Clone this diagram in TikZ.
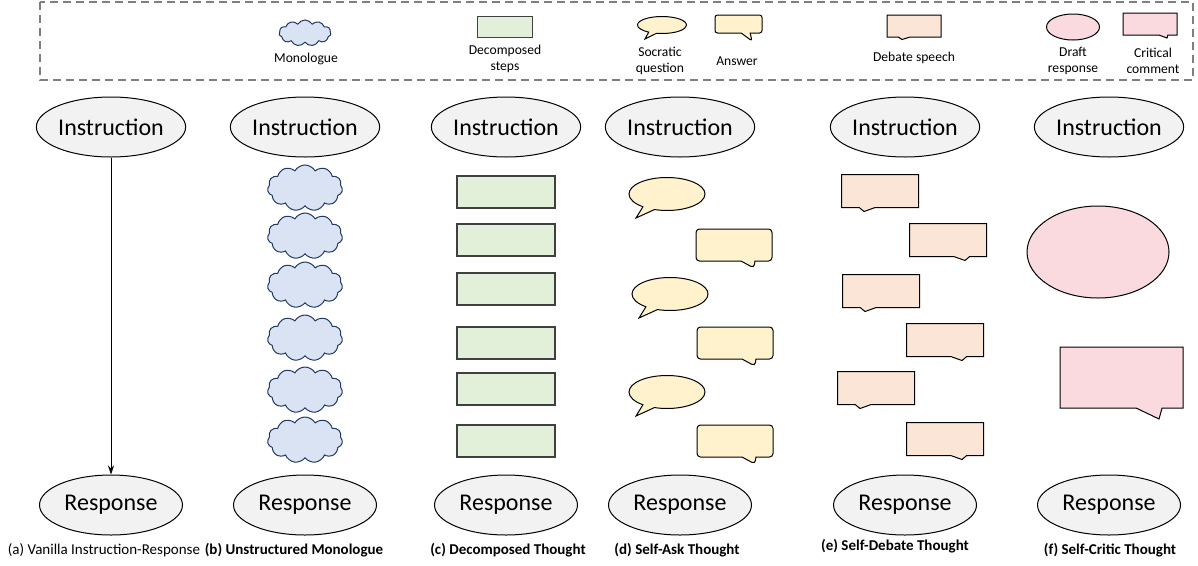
\documentclass[tikz,border=0pt]{standalone}
\usepackage{fontspec}
\setmainfont{Carlito}
\usetikzlibrary{shapes.geometric,shapes.symbols,shapes.callouts,arrows.meta}

\definecolor{cloudfill}{HTML}{DAE3F3}
\definecolor{clouddraw}{HTML}{1F3864}
\definecolor{stepfill}{HTML}{E2F0D9}
\definecolor{stepdraw}{HTML}{404040}
\definecolor{askfill}{HTML}{FFF2CC}
\definecolor{debatefill}{HTML}{FBE5D6}
\definecolor{criticfill}{HTML}{FADADF}
\definecolor{iofill}{HTML}{F2F2F2}
\definecolor{legendline}{HTML}{7F7F7F}

\tikzset{
 io/.style={ellipse, draw, fill=iofill, line width=1pt, minimum width=143pt, minimum height=60pt, inner sep=0pt, font=\fontsize{24}{28}\selectfont},
 monologue/.style={cloud, cloud puffs=11, cloud puff arc=120, cloud ignores aspect, draw=clouddraw, fill=cloudfill, line width=1pt, inner sep=0pt, minimum width=75pt, minimum height=46pt},
 stepbox/.style={rectangle, draw=stepdraw, fill=stepfill, line width=1.3pt, inner sep=0pt, minimum width=98pt, minimum height=32pt},
 question/.style={ellipse callout, draw, fill=askfill, line width=1pt, inner sep=0pt, callout pointer arc=20, minimum width=76pt, minimum height=33pt},
 answer/.style={rectangle callout, draw, fill=askfill, line width=1pt, inner sep=0pt, rounded corners=3.5pt, callout pointer width=14pt, minimum width=76pt, minimum height=32pt},
 debate/.style={rectangle callout, draw, fill=debatefill, line width=1pt, inner sep=0pt, callout pointer width=16pt, minimum width=77pt, minimum height=33pt},
 draft/.style={ellipse, draw, fill=criticfill, line width=1pt, inner sep=0pt},
 comment/.style={rectangle callout, draw, fill=criticfill, line width=1pt, inner sep=0pt, callout pointer width=26pt},
 legendtext/.style={align=center, inner sep=0pt, font=\fontsize{13.6}{16.5}\selectfont},
 caption/.style={inner sep=0pt, font=\fontsize{15}{18}\selectfont},
 boldcaption/.style={inner sep=0pt, font=\fontsize{15}{18}\selectfont\bfseries},
}

\begin{document}
\begin{tikzpicture}[x=1pt,y=-1pt]
 \useasboundingbox (0,0) rectangle (1198,565);

 %legend
 \draw [legendline, line width=1.5pt, dash pattern=on 8pt off 5pt] (40,2) rectangle (1193,80);
 \node [monologue, minimum width=52pt, minimum height=26pt] (legcloud) at (305,33) {};
 \node [legendtext] (legcloudtext) at (306,59) {Monologue};
 \node [stepbox, minimum width=55pt, minimum height=21pt] (legstep) at (505,27) {};
 \node [legendtext] (legsteptext) at (505,59) {Decomposed\\steps};
 \node [question, minimum width=49pt, minimum height=17pt, callout absolute pointer={(645,39)}] (legask) at (662,25) {};
 \node [legendtext] (legasktext) at (660,61) {Socratic\\question};
 \node [answer, minimum width=47pt, minimum height=18pt, rounded corners=2.5pt, callout pointer width=9pt, callout absolute pointer={(752,41)}] (legans) at (738.5,24) {};
 \node [legendtext] (leganstext) at (737,61) {Answer};
 \node [debate, minimum width=54pt, minimum height=22pt, callout pointer width=12pt, callout absolute pointer={(902,39.5)}] (legdebate) at (914,26) {};
 \node [legendtext] (legdebatetext) at (914,58) {Debate speech};
 \node [draft, minimum width=53pt, minimum height=26pt] (legdraft) at (1073,27) {};
 \node [legendtext] (legdrafttext) at (1073,61) {Draft\\response};
 \node [comment, minimum width=54pt, minimum height=22pt, callout pointer width=9pt, callout absolute pointer={(1167,38)}] (legcomment) at (1150,24) {};
 \node [legendtext] (legcommenttext) at (1153,61) {Critical\\comment};

 %instructions and responses
 \node [io] (instrA) at (111,127) {Instruction};
 \node [io] (instrB) at (305,127) {Instruction};
 \node [io] (instrC) at (506,127) {Instruction};
 \node [io] (instrD) at (680,127) {Instruction};
 \node [io] (instrE) at (905,127) {Instruction};
 \node [io] (instrF) at (1109,127) {Instruction};
 \node [io] (respA) at (111,505) {Response};
 \node [io] (respB) at (305,505) {Response};
 \node [io] (respC) at (506,505) {Response};
 \node [io] (respD) at (680,505) {Response};
 \node [io] (respE) at (905,505) {Response};
 \node [io] (respF) at (1109,505) {Response};

 %(a) direct arrow
 \draw [line width=1pt, -{Stealth[length=9pt,width=6pt]}] (instrA) -- (respA);

 %(b) monologue clouds
 \node [monologue] (cloudA) at (305,188) {};
 \node [monologue] (cloudB) at (305,236) {};
 \node [monologue] (cloudC) at (305,285) {};
 \node [monologue] (cloudD) at (305,338) {};
 \node [monologue] (cloudE) at (305,390) {};
 \node [monologue] (cloudF) at (305,440) {};

 %(c) decomposed steps
 \node [stepbox] (stepA) at (506,192) {};
 \node [stepbox] (stepB) at (506,240) {};
 \node [stepbox] (stepC) at (506,289) {};
 \node [stepbox] (stepD) at (506,343) {};
 \node [stepbox] (stepE) at (506,389) {};
 \node [stepbox] (stepF) at (506,441) {};

 %(d) questions and answers
 \node [question, callout absolute pointer={(636,218)}] (askA) at (667,194) {};
 \node [answer, callout absolute pointer={(754,268)}] (ansA) at (734,245) {};
 \node [question, callout absolute pointer={(639,318)}] (askB) at (670,294) {};
 \node [answer, callout absolute pointer={(755,366)}] (ansB) at (735,343) {};
 \node [question, callout absolute pointer={(636,416)}] (askC) at (667,392) {};
 \node [answer, callout absolute pointer={(755,464)}] (ansC) at (735,441) {};

 %(e) debate speeches
 \node [debate, callout absolute pointer={(864,211.5)}] (debateA) at (880,191) {};
 \node [debate, callout absolute pointer={(965,260.5)}] (debateB) at (948,240) {};
 \node [debate, callout absolute pointer={(865,311.5)}] (debateC) at (881,291) {};
 \node [debate, callout absolute pointer={(962,360.5)}] (debateD) at (945,340) {};
 \node [debate, callout absolute pointer={(860,408.5)}] (debateE) at (876,388) {};
 \node [debate, callout absolute pointer={(962,459.5)}] (debateF) at (945,439) {};

 %(f) draft and critique
 \node [draft, minimum width=142pt, minimum height=92pt] (draftA) at (1098,252) {};
 \node [comment, minimum width=123pt, minimum height=61pt, callout absolute pointer={(1159,419)}] (commentA) at (1121.5,377.5) {};

 %captions
 \node [caption] (capA) at (104,550) {(a) Vanilla Instruction-Response};
 \node [boldcaption] (capB) at (294,550) {(b) Unstructured Monologue};
 \node [boldcaption] (capC) at (508,550) {(c) Decomposed Thought};
 \node [boldcaption] (capD) at (677,550) {(d) Self-Ask Thought};
 \node [boldcaption] (capE) at (895,546) {(e) Self-Debate Thought};
 \node [boldcaption] (capF) at (1110,550) {(f) Self-Critic Thought};
\end{tikzpicture}
\end{document}
